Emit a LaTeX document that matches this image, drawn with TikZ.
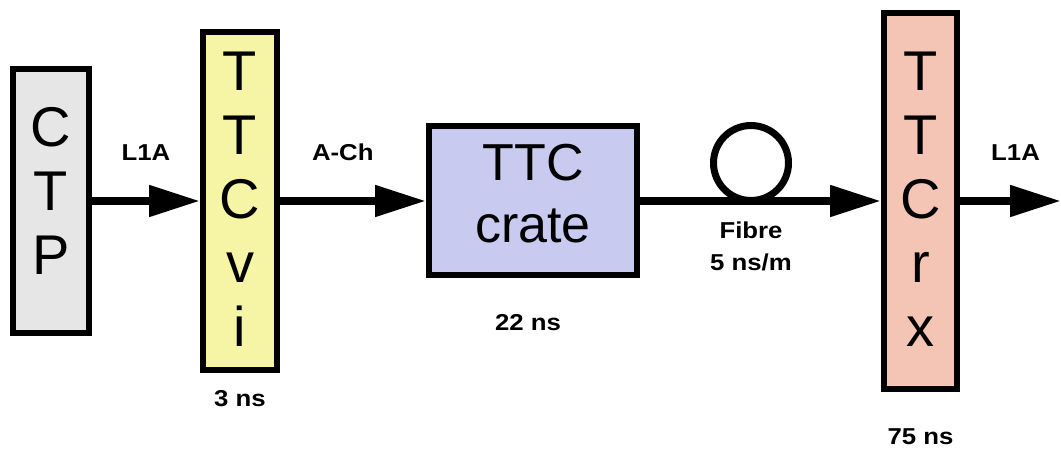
\documentclass[tikz,border=0pt]{standalone}
\usepackage{fontspec}
\setmainfont{Liberation Sans}
\newfontfamily\lblfont[FakeStretch=1.12]{Liberation Sans}
\definecolor{ctpgrey}{RGB}{230,230,230}
\definecolor{vipale}{RGB}{245,245,165}
\definecolor{cratelilac}{RGB}{200,202,240}
\definecolor{rxsalmon}{RGB}{244,196,180}
\usetikzlibrary{positioning, arrows.meta}

\begin{document}
\begin{tikzpicture}[x=1pt, y=-1pt,
  modbox/.style={draw=black, line width=6pt, inner sep=0pt, align=center,
    font=\fontsize{56}{64}\selectfont},
  sig/.style={line width=8pt, -{Triangle[length=51pt, width=30pt]}},
  lbl/.style={font=\lblfont\bfseries\fontsize{23}{32}\selectfont, align=center, inner sep=0pt},
  node distance=0pt,
]
  \useasboundingbox (0,0) rectangle (1061,449);
  \node[modbox, fill=ctpgrey, minimum width=76pt, minimum height=264pt] (ctp) at (51,201) {C\\T\\P\\[-44pt]};
  \node[modbox, fill=vipale, minimum width=74pt, minimum height=337pt, right=108pt of ctp] (ttcvi) {T\\T\\C\\v\\i\\[-60pt]};
  \node[modbox, fill=cratelilac, minimum width=208pt, minimum height=149pt, right=146pt of ttcvi,
    font=\fontsize{52}{62}\selectfont] (crate) {TTC\\crate\\[-46pt]};
  \node[modbox, fill=rxsalmon, minimum width=73pt, minimum height=376pt, right=241pt of crate] (ttcrx) {T\\T\\C\\r\\x\\[-60pt]};
  \coordinate (edge) at (1061,0);

  \draw[sig] (ctp.east) -- node[lbl, above=36pt] (l1a) {L1A} (ttcvi.west);
  \draw[sig] (ttcvi.east) -- node[lbl, above=36pt, pos=.43] (ach) {A-Ch} (crate.west);
  \draw[sig] (crate.east) -- (ttcrx.west);
  \draw[sig] (ttcrx.east) -- node[lbl, above=36pt, pos=.55] (l1aout) {L1A} (ttcrx.east -| edge);

  \node[circle, draw=black, line width=7pt, inner sep=0pt, minimum size=75pt] (loop) at (751,163) {};
  \node[lbl, below=18pt] (fibre) at (loop.south) {Fibre\\5 ns/m};

  \node[lbl, below=18pt] (dvi) at (ttcvi.south) {3 ns};
  \node[lbl, below=36pt, xshift=-5pt] (dcrate) at (crate.south) {22 ns};
  \node[lbl, below=36pt] (drx) at (ttcrx.south) {75 ns};
\end{tikzpicture}
\end{document}
